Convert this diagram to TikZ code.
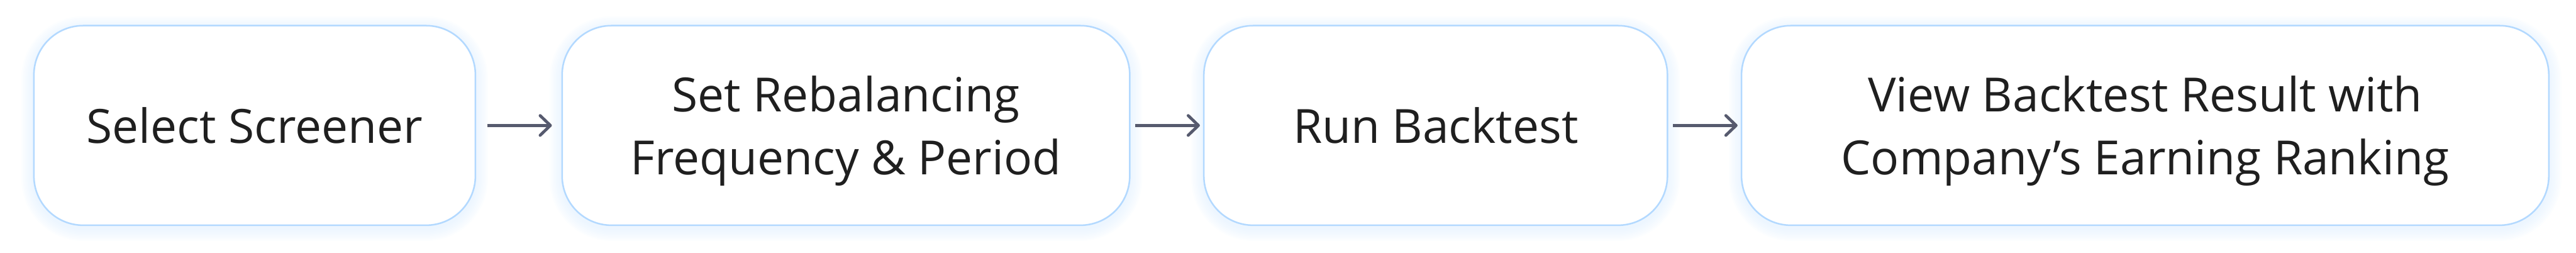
\documentclass[tikz,border=0pt]{standalone}
\usepackage{fontspec}
\setmainfont{Open Sans}
\usetikzlibrary{arrows.meta, positioning, backgrounds}
\definecolor{boxline}{HTML}{B3D9FF}
\definecolor{glowblue}{HTML}{D6EAFF}
\definecolor{arrowgray}{HTML}{565A6E}
\definecolor{labeltext}{HTML}{1F1F1F}

\begin{document}
\begin{tikzpicture}[
    stepbox/.style={draw=boxline, line width=0.04cm, fill=white,
                    rounded corners=1.25cm, minimum height=5.06cm,
                    outer sep=0pt, align=center, text=labeltext,
                    text depth=0pt,
                    font=\fontsize{34}{45.5}\selectfont},
    flow/.style={draw=arrowgray, line width=0.075cm,
                 -{Straight Barb[length=0.26cm, width=0.5cm, round]}}
  ]
  \useasboundingbox (0,0) rectangle (65.35,6.4);

  \node[stepbox, minimum width=11.2cm] (screener) at (6.46,3.22)
    {Select Screener};
  \node[stepbox, minimum width=14.4cm, right=2.2cm of screener] (rebal)
    {Set Rebalancing\\Frequency \& Period};
  \node[stepbox, minimum width=11.76cm, right=1.88cm of rebal] (run)
    {Run Backtest};
  \node[stepbox, minimum width=20.48cm, right=1.88cm of run] (result)
    {View Backtest Result with\\Company’s Earning Ranking};

  % soft glow behind the boxes
  \begin{scope}[on background layer]
    \foreach \b in {screener, rebal, run, result} {
      \foreach \s in {1,...,8} {
        \pgfmathsetmacro{\rad}{1.25+\s*0.04}
        \pgfmathsetmacro{\grow}{\s*0.04}
        \fill[glowblue, opacity=0.07, rounded corners=\rad cm]
          ([shift={(-\grow,-\grow-0.08)}]\b.south west) rectangle
          ([shift={(\grow,\grow-0.08)}]\b.north east);
      }
    }
  \end{scope}

  \draw[flow, shorten <=0.3cm, shorten >=0.26cm] (screener) -- (rebal);
  \draw[flow, shorten <=0.14cm, shorten >=0.1cm] (rebal) -- (run);
  \draw[flow, shorten <=0.14cm, shorten >=0.1cm] (run) -- (result);
\end{tikzpicture}
\end{document}
